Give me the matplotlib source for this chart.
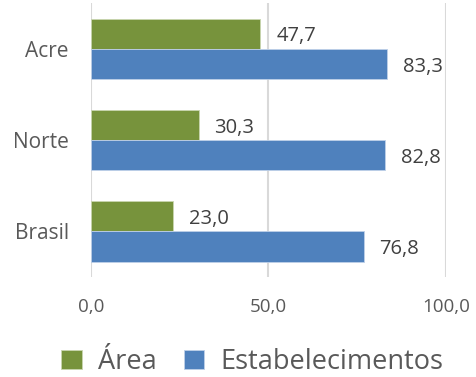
import numpy as np
import matplotlib
matplotlib.use('Agg')
import matplotlib.pyplot as plt

# dados
categorias = ['Brasil', 'Norte', 'Acre']
area = [23.0, 30.3, 47.7]
estabelecimentos = [76.8, 82.8, 83.3]
ticks = [0, 50, 100]
tick_labels = ['0,0', '50,0', '100,0']

verde = '#77933C'
azul = '#4F81BD'
cinza = '#595959'

plt.rcParams['font.family'] = ['Open Sans', 'DejaVu Sans']

fig = plt.figure(figsize=(4.76, 3.77), dpi=100)
ax = fig.add_axes([0.191, 0.265, 0.746, 0.727])

y = np.arange(len(categorias))
h = 0.33
b1 = ax.barh(y + h / 2, area, height=h, color=verde, edgecolor='#C9D6B0', linewidth=0.6, label='Área', zorder=2)
b2 = ax.barh(y - h / 2, estabelecimentos, height=h, color=azul, edgecolor='#BFD0E8', linewidth=0.6, label='Estabelecimentos', zorder=2)

def fmt(v):
    return ('%.1f' % v).replace('.', ',')

for bars, vals in [(b1, area), (b2, estabelecimentos)]:
    for r, v in zip(bars, vals):
        ax.annotate(fmt(v), (r.get_width(), r.get_y() + r.get_height() / 2),
                    xytext=(11.5, -2), textcoords='offset points',
                    ha='left', va='center', fontsize=14.5, color='#404040')

ax.set_xlim(0, 100)
ax.set_ylim(-0.5, 2.5)
ax.set_xticks(ticks)
ax.set_xticklabels(tick_labels, fontsize=13.5, color=cinza)
ax.set_yticks(y)
ax.set_yticklabels(categorias, fontsize=15, color=cinza)
ax.tick_params(axis='both', length=0)
ax.tick_params(axis='x', pad=15)
ax.tick_params(axis='y', pad=16)
ax.grid(axis='x', color='#D9D9D9', linewidth=1.5, zorder=0)
ax.set_axisbelow(True)
for s in ax.spines.values():
    s.set_visible(False)

fig.legend(handles=[b1, b2], loc='lower center', bbox_to_anchor=(0.53, -0.062), ncol=2,
           frameon=False, fontsize=19.5, labelcolor=cinza, handlelength=0.75, handleheight=0.75,
           handletextpad=0.6, columnspacing=1.0)

fig.savefig('out.png', dpi=100)
